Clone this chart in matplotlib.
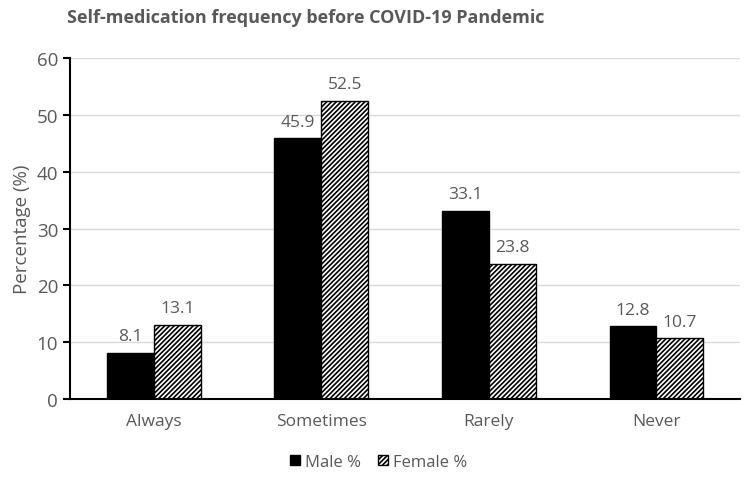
import numpy as np
import matplotlib.pyplot as plt

categories = ['Always', 'Sometimes', 'Rarely', 'Never']
male = [8.1, 45.9, 33.1, 12.8]
female = [13.1, 52.5, 23.8, 10.7]

plt.rcParams['font.family'] = ['Open Sans', 'DejaVu Sans']
plt.rcParams['hatch.linewidth'] = 1.2
grey = '#595959'

fig = plt.figure(figsize=(7.5, 4.81), dpi=100)
ax = fig.add_axes([0.0933, 0.1684, 0.8937, 0.7089])

x = np.arange(len(categories))
w = 0.28
b1 = ax.bar(x - w / 2, male, w, color='black', edgecolor='black', linewidth=1, label='Male %')
b2 = ax.bar(x + w / 2, female, w, color='white', edgecolor='black', hatch='///////', linewidth=1, label='Female %')

for bars, vals in [(b1, male), (b2, female)]:
    for r, v in zip(bars, vals):
        ax.text(r.get_x() + r.get_width() / 2, v + 1.5, f'{v:.1f}', ha='center', va='bottom',
                fontsize=12.5, color=grey)

ax.set_xlim(-0.5, 3.5)
ax.set_ylim(0, 60)
ax.set_yticks(range(0, 61, 10))
ax.set_xticks(x)
ax.set_xticklabels(categories)
ax.tick_params(axis='y', labelsize=13.5, labelcolor=grey, length=5, width=1.5, color='black')
ax.tick_params(axis='x', labelsize=12.5, labelcolor=grey, length=0, pad=10)
ax.grid(axis='y', color='#d9d9d9', linewidth=1)
ax.set_axisbelow(True)
for s in ['top', 'right']:
    ax.spines[s].set_visible(False)
ax.spines['left'].set_linewidth(1.5)
ax.spines['bottom'].set_linewidth(1.5)
ax.set_ylabel('Percentage (%)', fontsize=13.5, color=grey, labelpad=4)

fig.text(0.089, 0.963, 'Self-medication frequency before COVID-19 Pandemic', fontsize=13,
         fontweight='bold', color=grey, ha='left', va='center')

fig.legend(handles=[b1, b2], loc='center', bbox_to_anchor=(0.505, 0.038), ncol=2, frameon=False,
           fontsize=12, labelcolor=grey, handlelength=0.6, handleheight=0.6, handletextpad=0.3,
           columnspacing=1.0)

fig.savefig('out.png', dpi=100)
